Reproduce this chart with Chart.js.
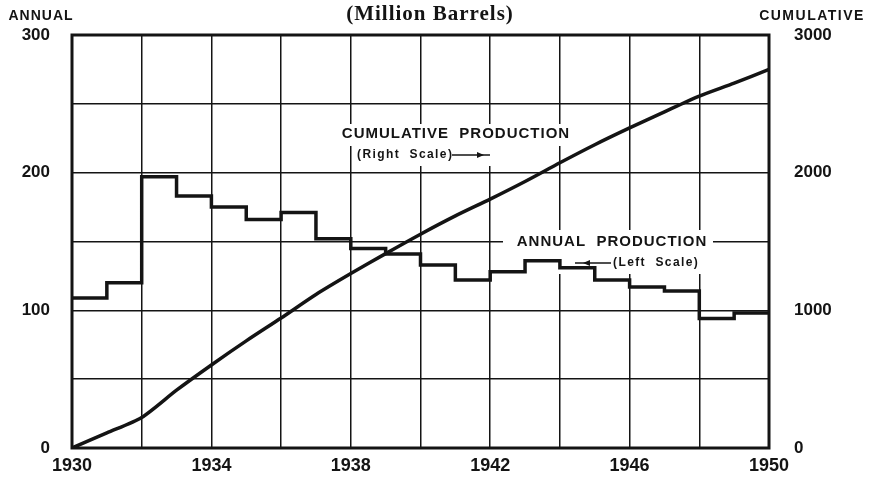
<!DOCTYPE html>
<html>
<head>
<meta charset="utf-8">
<script src="https://cdn.jsdelivr.net/npm/chart.js@4.4.1/dist/chart.umd.min.js"></script>
<style>
  html, body { margin: 0; padding: 0; background: #fff; }
  #wrap { width: 870px; height: 477px; }
</style>
</head>
<body>
<div id="wrap"><canvas id="chart" width="870" height="477"></canvas></div>
<script>
// annual production, one value per year (left scale, million barrels)
const annualYears = [1930, 1931, 1932, 1933, 1934, 1935, 1936, 1937, 1938, 1939,
  1940, 1941, 1942, 1943, 1944, 1945, 1946, 1947, 1948, 1949];
const annualProduction = [109, 120, 197, 183, 175, 166, 171, 152, 145, 141,
  133, 122, 128, 136, 131, 122, 117, 114, 94, 98];

// cumulative production at each year mark (right scale)
const cumulativeYears = [1930, 1931, 1932, 1933, 1934, 1935, 1936, 1937, 1938, 1939,
  1940, 1941, 1942, 1943, 1944, 1945, 1946, 1947, 1948, 1949, 1950];
const cumulativeProduction = [0, 110, 222, 420, 603, 778, 944, 1115, 1267, 1412,
  1553, 1686, 1808, 1936, 2072, 2203, 2325, 2442, 2556, 2650, 2750];

const xLabels = [1930, 1934, 1938, 1942, 1946, 1950];
const leftLabels = [0, 100, 200, 300];
const rightLabels = [0, 1000, 2000, 3000];

const INK = '#141414';
const CLEAR = 'rgba(0,0,0,0)';
const sans = '"Liberation Sans", Arial, sans-serif';

// step series: hold each year's value until the next year
const stepPoints = annualYears.map((yr, i) => ({ x: yr, y: annualProduction[i] }));
stepPoints.push({ x: annualYears[annualYears.length - 1] + 1, y: annualProduction[annualProduction.length - 1] });

const cumPoints = cumulativeYears.map((yr, i) => ({ x: yr, y: cumulativeProduction[i] }));

function text(ctx, str, x, y, font, align, spacing) {
  ctx.font = font;
  ctx.textAlign = align || 'left';
  ctx.textBaseline = 'middle';
  ctx.letterSpacing = (spacing || 0) + 'px';
  ctx.fillText(str, x, y);
  ctx.letterSpacing = '0px';
}

function arrow(ctx, x1, x2, y, headAt) {
  ctx.beginPath();
  ctx.moveTo(x1, y);
  ctx.lineTo(x2, y);
  ctx.stroke();
  const dir = x2 > x1 ? 1 : -1;
  ctx.beginPath();
  ctx.moveTo(headAt, y);
  ctx.lineTo(headAt - dir * 7, y - 3);
  ctx.lineTo(headAt - dir * 7, y + 3);
  ctx.closePath();
  ctx.fill();
}

const labelsPlugin = {
  id: 'labels',
  beforeDatasetsDraw(chart) {
    const ctx = chart.ctx;
    ctx.save();
    // blank the grid behind the captions
    ctx.fillStyle = '#fff';
    ctx.fillRect(334, 124, 246, 22);
    ctx.fillRect(352, 146, 142, 20);
    ctx.fillRect(503, 230, 210, 44);
    ctx.restore();
  },
  afterDatasetsDraw(chart) {
    const ctx = chart.ctx;
    ctx.save();
    ctx.fillStyle = INK;
    ctx.strokeStyle = INK;
    ctx.lineWidth = 1.6;
    text(ctx, 'CUMULATIVE  PRODUCTION', 456, 134, 'bold 15px ' + sans, 'center', 1);
    text(ctx, '(Right  Scale)', 357, 155, 'bold 12px ' + sans, 'left', 1.4);
    arrow(ctx, 452, 490, 155, 484);
    text(ctx, 'ANNUAL  PRODUCTION', 612, 242, 'bold 15px ' + sans, 'center', 1);
    text(ctx, '(Left  Scale)', 613, 263, 'bold 12px ' + sans, 'left', 1.4);
    arrow(ctx, 611, 575, 263, 583);
    ctx.restore();
  },
  afterDraw(chart) {
    const ctx = chart.ctx;
    const a = chart.chartArea;
    ctx.save();
    ctx.strokeStyle = INK;
    ctx.lineWidth = 3;
    ctx.strokeRect(a.left, a.top, a.right - a.left, a.bottom - a.top);
    ctx.fillStyle = INK;
    text(ctx, 'ANNUAL', 41, 16, 'bold 14px ' + sans, 'center', 1);
    text(ctx, 'CUMULATIVE', 812, 16, 'bold 14px ' + sans, 'center', 1.5);
    text(ctx, '(Million Barrels)', 430, 15, 'bold 21px "Liberation Serif", "Times New Roman", serif', 'center', 1);
    ctx.restore();
  }
};

new Chart(document.getElementById('chart'), {
  type: 'line',
  data: {
    datasets: [
      {
        label: 'Annual Production',
        data: stepPoints,
        yAxisID: 'y',
        stepped: 'before',
        borderColor: INK,
        borderWidth: 3.5,
        pointRadius: 0,
        fill: false
      },
      {
        label: 'Cumulative Production',
        data: cumPoints,
        yAxisID: 'y2',
        borderColor: INK,
        borderWidth: 3.5,
        pointRadius: 0,
        tension: 0.25,
        fill: false
      }
    ]
  },
  options: {
    responsive: false,
    animation: false,
    devicePixelRatio: 1,
    layout: { padding: { top: 35, left: 0, right: 0, bottom: 0 } },
    plugins: { legend: { display: false }, tooltip: { enabled: false } },
    scales: {
      x: {
        type: 'linear',
        min: 1930,
        max: 1950,
        afterFit: s => { s.height = 29; },
        grid: { color: INK, lineWidth: 1.5, drawTicks: false },
        border: { display: false },
        ticks: {
          stepSize: 2,
          autoSkip: false,
          maxRotation: 0,
          padding: 7,
          color: INK,
          font: { family: '"Liberation Sans Narrow", "Liberation Sans", sans-serif', size: 18, weight: 'bold' },
          callback: v => (xLabels.includes(v) ? String(v) : '')
        }
      },
      y: {
        position: 'left',
        min: 0,
        max: 300,
        afterFit: s => { s.width = 72; },
        // tick marks are invisible; their length only sets the label gap
        grid: { color: INK, lineWidth: 1.5, drawTicks: true, tickLength: 22, tickColor: CLEAR },
        border: { display: false },
        ticks: {
          stepSize: 50,
          padding: 0,
          color: INK,
          font: { family: sans, size: 17, weight: 'bold' },
          callback: v => (leftLabels.includes(v) ? String(v) : '')
        }
      },
      y2: {
        position: 'right',
        min: 0,
        max: 3000,
        afterFit: s => { s.width = 101; },
        grid: { display: true, drawOnChartArea: false, drawTicks: true, tickLength: 25, tickColor: CLEAR, color: CLEAR },
        border: { display: false },
        ticks: {
          stepSize: 1000,
          padding: 0,
          color: INK,
          font: { family: sans, size: 17, weight: 'bold' },
          callback: v => (rightLabels.includes(v) ? String(v) : '')
        }
      }
    }
  },
  plugins: [labelsPlugin]
});
</script>
</body>
</html>
